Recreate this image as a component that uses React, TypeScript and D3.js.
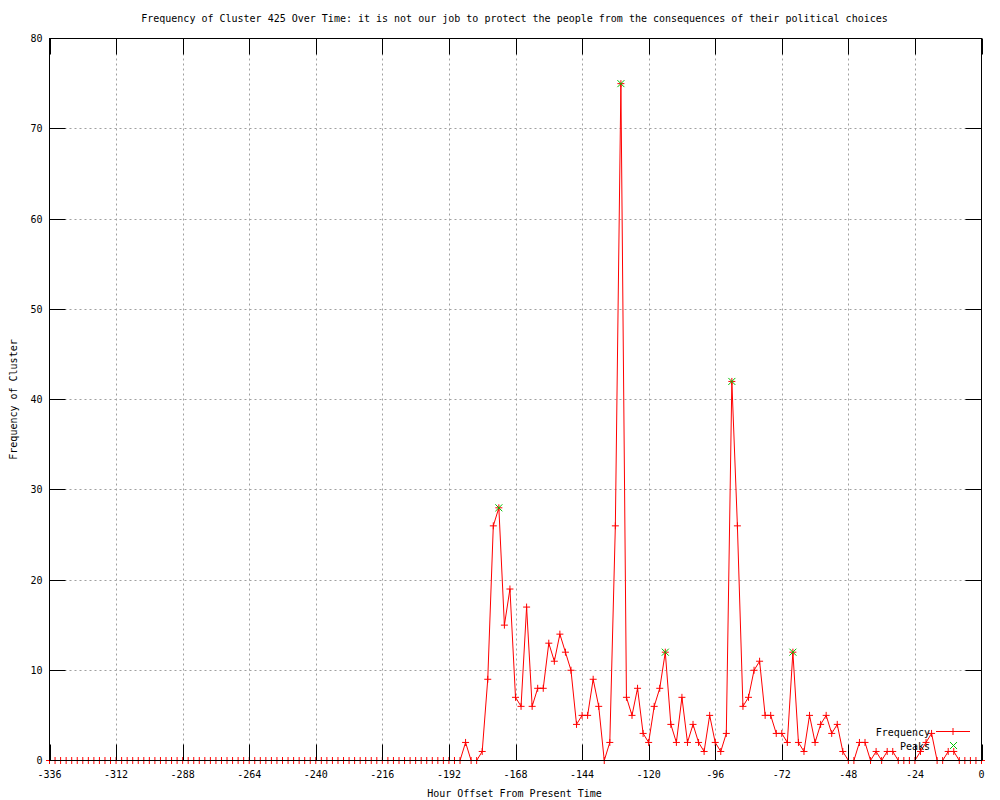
import React from "react";
import * as d3 from "d3";

// Hours: -336 .. 0 in 2-hour steps
const hours: number[] = d3.range(-336, 1, 2);

// Frequency values (one per hour bucket, -336 .. 0)
const leadingZeros: number[] = new Array(75).fill(0); // -336 .. -188
const activeValues: number[] = [
  2, 0, 0, 1, 9, 26, 28, 15, 19, 7, // -186 .. -168
  6, 17, 6, 8, 8, 13, 11, 14, 12, 10, // -166 .. -148
  4, 5, 5, 9, 6, 0, 2, 26, 75, 7, // -146 .. -128
  5, 8, 3, 2, 6, 8, 12, 4, 2, 7, // -126 .. -108
  2, 4, 2, 1, 5, 2, 1, 3, 42, 26, // -106 .. -88
  6, 7, 10, 11, 5, 5, 3, 3, 2, 12, // -86 .. -68
  2, 1, 5, 2, 4, 5, 3, 4, 1, 0, // -66 .. -48
  0, 2, 2, 0, 1, 0, 1, 1, 0, 0, // -46 .. -28
  0, 0, 1, 2, 3, 0, 0, 1, 1, 0, // -26 .. -8
  0, 0, 0, 0, // -6 .. 0
];
const frequency: number[] = leadingZeros.concat(activeValues);

const peakHours: number[] = [-174, -130, -114, -90, -68];

const xTicks: number[] = [-336, -312, -288, -264, -240, -216, -192, -168, -144, -120, -96, -72, -48, -24, 0];
const yTicks: number[] = [0, 10, 20, 30, 40, 50, 60, 70, 80];

const TITLE =
  "Frequency of Cluster 425 Over Time: it is not our job to protect the people from the consequences of their political choices";

const W = 1000;
const H = 800;
const L = 49.5;
const R = 981.5;
const T = 38.5;
const B = 760.5;
const TICK = 16;
const FONT = "'DejaVu Sans Mono', 'Liberation Mono', monospace";
const FS = 10;
const RED = "#ff0000";
const GREEN = "#00c000";

export default function App() {
  const x = d3.scaleLinear().domain([-336, 0]).range([L, R]);
  const y = d3.scaleLinear().domain([0, 80]).range([B, T]);

  const pts = hours.map((h, i) => ({ h, v: frequency[i] }));
  const line = d3
    .line<{ h: number; v: number }>()
    .x((d) => x(d.h))
    .y((d) => y(d.v));

  const peaks = peakHours.map((h) => ({ h, v: frequency[hours.indexOf(h)] }));

  const plus = (cx: number, cy: number, color: string, key: string) => (
    <g key={key} stroke={color} strokeWidth={1}>
      <line x1={cx - 3.5} x2={cx + 3.5} y1={cy} y2={cy} />
      <line x1={cx} x2={cx} y1={cy - 3.5} y2={cy + 3.5} />
    </g>
  );
  const cross = (cx: number, cy: number, color: string, key: string) => (
    <g key={key} stroke={color} strokeWidth={1}>
      <line x1={cx - 3.5} x2={cx + 3.5} y1={cy - 3.5} y2={cy + 3.5} />
      <line x1={cx - 3.5} x2={cx + 3.5} y1={cy + 3.5} y2={cy - 3.5} />
    </g>
  );

  return (
    <svg
      width={W}
      height={H}
      style={{ position: "absolute", left: 0, top: 0, background: "#fff" }}
      fontFamily={FONT}
      fontSize={FS}
    >
      <rect x={0} y={0} width={W} height={H} fill="#fff" />
      {/* grid */}
      <g stroke="#a0a0a0" strokeWidth={1} strokeDasharray="2,3">
        {xTicks
          .filter((t) => t !== -336 && t !== 0)
          .map((t) => (
            <line key={"gx" + t} x1={Math.round(x(t)) + 0.5} x2={Math.round(x(t)) + 0.5} y1={T} y2={B} />
          ))}
        {yTicks
          .filter((t) => t !== 0 && t !== 80)
          .map((t) => (
            <line key={"gy" + t} x1={L} x2={R} y1={Math.round(y(t) - 0.5) + 0.5} y2={Math.round(y(t) - 0.5) + 0.5} />
          ))}
      </g>

      {/* data line */}
      <path d={line(pts) || ""} fill="none" stroke={RED} strokeWidth={1} />
      {pts.map((d, i) => plus(x(d.h), y(d.v), RED, "p" + i))}
      {peaks.map((d, i) => cross(x(d.h), y(d.v), GREEN, "k" + i))}

      {/* border and ticks */}
      <rect x={L} y={T} width={R - L} height={B - T} fill="none" stroke="#000" strokeWidth={1} />
      <g stroke="#000" strokeWidth={1}>
        {xTicks.map((t) => {
          const xx = Math.round(x(t)) + 0.5;
          return (
            <g key={"tx" + t}>
              <line x1={xx} x2={xx} y1={B} y2={B - TICK} />
              <line x1={xx} x2={xx} y1={T} y2={T + TICK} />
            </g>
          );
        })}
        {yTicks.map((t) => {
          const yy = Math.round(y(t) - 0.5) + 0.5;
          return (
            <g key={"ty" + t}>
              <line x1={L} x2={L + TICK} y1={yy} y2={yy} />
              <line x1={R} x2={R - TICK} y1={yy} y2={yy} />
            </g>
          );
        })}
      </g>

      {/* tick labels */}
      <g fill="#000">
        {xTicks.map((t) => (
          <text key={"lx" + t} x={x(t)} y={778} textAnchor="middle">
            {String(t)}
          </text>
        ))}
        {yTicks.map((t) => (
          <text key={"ly" + t} x={42.5} y={y(t) + 3.5} textAnchor="end">
            {String(t)}
          </text>
        ))}
      </g>

      {/* titles */}
      <text x={514.5} y={22} textAnchor="middle" fill="#000">
        {TITLE}
      </text>
      <text x={514.5} y={797} textAnchor="middle" fill="#000">
        Hour Offset From Present Time
      </text>
      <text
        x={0}
        y={0}
        transform={`translate(17, ${(T + B) / 2}) rotate(-90)`}
        textAnchor="middle"
        fill="#000"
      >
        Frequency of Cluster
      </text>

      {/* legend */}
      <text x={930} y={736} textAnchor="end" fill="#000">
        Frequency
      </text>
      <line x1={936} x2={970} y1={731.5} y2={731.5} stroke={RED} strokeWidth={1} />
      {plus(953, 731.5, RED, "legp")}
      <text x={930} y={749.5} textAnchor="end" fill="#000">
        Peaks
      </text>
      {cross(953.5, 745.5, GREEN, "legk")}
    </svg>
  );
}
